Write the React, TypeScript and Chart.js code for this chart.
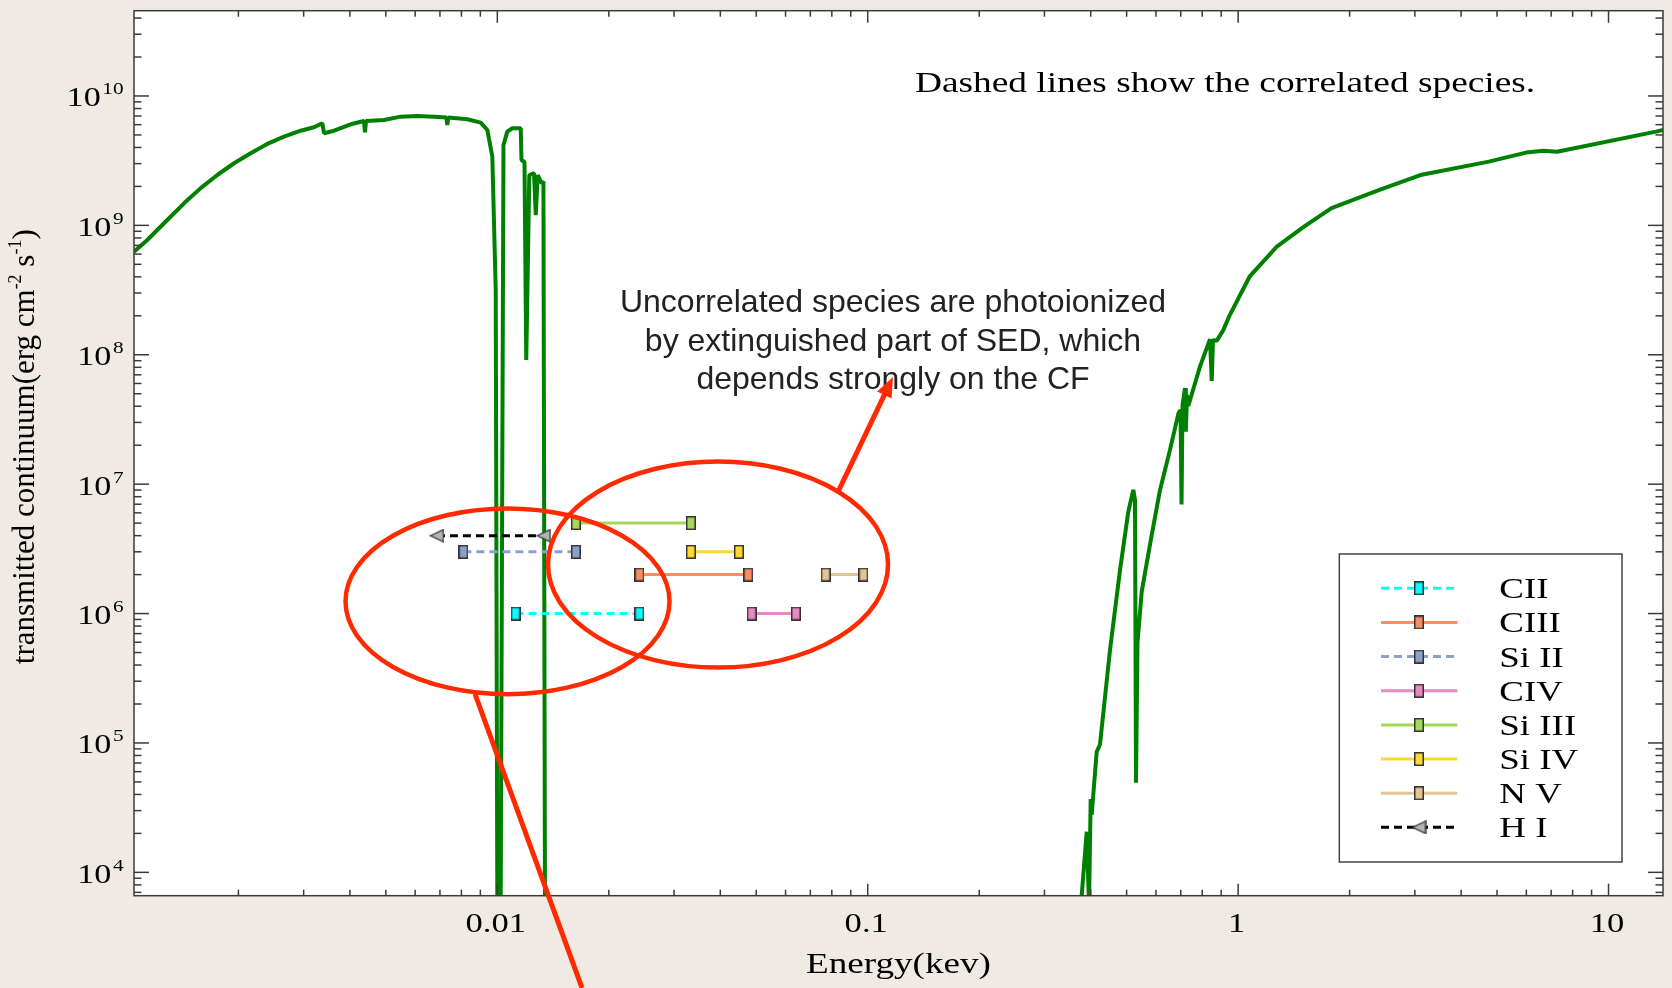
import React, { useEffect, useRef } from 'react';
import { Chart, registerables } from 'chart.js';

Chart.register(...registerables);

// ---- transmitted continuum (energy in keV, flux in erg cm^-2 s^-1) ----
const specE = [
  0.001045, 0.001135, 0.001285, 0.001426, 0.001582, 0.001754, 0.001946, 0.002158, 0.002393, 0.002655,
  0.002945, 0.0032, 0.00337, 0.003405, 0.003623, 0.00402, 0.004366, 0.004393, 0.004421, 0.004944,
  0.005485, 0.006081, 0.006749, 0.007285, 0.007328, 0.007373, 0.008298, 0.00902, 0.009397, 0.009694,
  0.009901, 0.010001, 0.01021, 0.01039, 0.01064, 0.01098, 0.01157, 0.01162, 0.01184, 0.01197, 0.0122,
  0.01256, 0.0127, 0.01285, 0.01316, 0.01332, 0.01345,
  0.3752, 0.3902, 0.3958, 0.3999, 0.4024, 0.4151, 0.4237, 0.4509, 0.4799, 0.5052,
  0.5212, 0.5267, 0.53, 0.5349, 0.5491, 0.5783, 0.6154, 0.6547, 0.6897, 0.699,
  0.7034, 0.7078, 0.7188, 0.7225, 0.7278, 0.7336, 0.7892, 0.8397, 0.8486, 0.8554,
  0.8753, 0.912, 0.9449, 1.0734, 1.272, 1.506, 1.787, 2.407, 3.106, 4.752,
  5.988, 6.675, 7.261, 13.43, 14.03,
];
const specF = [
  6.26e8, 7.71e8, 1.1e9, 1.48e9, 1.94e9, 2.45e9, 3.02e9, 3.61e9, 4.26e9, 4.85e9,
  5.39e9, 5.73e9, 6.15e9, 5.15e9, 5.39e9, 6.04e9, 6.41e9, 5.24e9, 6.41e9, 6.52e9,
  6.92e9, 7.01e9, 6.92e9, 6.82e9, 5.97e9, 6.82e9, 6.61e9, 6.22e9, 5.46e9, 3.4e9,
  3.17e8, 5e3, 5e3, 4.18e9, 5.3e9, 5.63e9, 5.63e9, 3.2e9, 3.09e9, 9.12e7, 2.45e9,
  2.53e9, 1.2e9, 2.45e9, 2.12e9, 2.18e9, 5e3,
  5e3, 2.06e4, 5.6e3, 3.69e4, 2.78e4, 8.55e4, 9.73e4, 5.23e5, 2.17e6, 6.12e6,
  9.02e6, 7.55e6, 4.93e4, 5.96e5, 1.47e6, 3.42e6, 9.02e6, 1.84e7, 3.51e7, 3.74e7,
  6.97e6, 4.09e7, 5.54e7, 2.54e7, 4.89e7, 4.02e7, 8.14e7, 1.32e8, 6.27e7, 1.3e8,
  1.28e8, 1.55e8, 1.97e8, 4.01e8, 6.84e8, 9.77e8, 1.36e9, 1.88e9, 2.45e9, 3.11e9,
  3.65e9, 3.78e9, 3.71e9, 5.3e9, 5.46e9,
];

// ---- species ionisation ranges ----
const speciesNames = ['CII', 'CIII', 'Si II', 'CIV', 'Si III', 'Si IV', 'N V', 'H I'];
const speciesLow = [0.0112, 0.0242, 0.0081, 0.0486, 0.0163, 0.0333, 0.077, 0.00687];
const speciesHigh = [0.0242, 0.0476, 0.0163, 0.064, 0.0333, 0.0449, 0.0973, 0.01334];
const speciesLevel = [1e6, 2e6, 3e6, 1e6, 5e6, 3e6, 2e6, 4e6];
const speciesColor = ['#00ffff', '#fc8d62', '#8da0cb', '#e78ac3', '#a6d854', '#ffd92f', '#e5c494', '#000000'];
const speciesFill = ['#00ffff', '#fc8d62', '#8da0cb', '#e78ac3', '#a6d854', '#ffd92f', '#e5c494', '#b3b3b3'];
const speciesDashed = [true, false, true, false, false, false, false, true];
const speciesMarker = ['rect', 'rect', 'rect', 'rect', 'rect', 'rect', 'rect', 'triangle'];

// ---- axes ----
const X_MIN = 0.001045;
const X_MAX = 14.03;
const Y_MIN = 6.6e3;
const Y_MAX = 4.56e10;
const xTickValues = [0.01, 0.1, 1, 10];
const xTickLabels = ['0.01', '0.1', '1', '10'];
const yTickExponents = [4, 5, 6, 7, 8, 9, 10];
const xTitle = 'Energy(kev)';

// ---- annotations (data coordinates) ----
const ellipseCenterE = [0.010655, 0.03943];
const ellipseCenterF = [1.243e6, 2.392e6];
const ellipseHalfDecE = [0.4374, 0.459];
const ellipseHalfDecF = [0.7172, 0.796];
const arrowFromE = [0.0831, 0.008705];
const arrowFromF = [8.7e6, 2.39e5];
const arrowToE = [0.117, 0.01693];
const arrowToF = [6.74e7, 1.278e3];
const arrowHasHead = [true, false];
const noteLines = ['Uncorrelated species are photoionized', 'by extinguished part of SED, which', 'depends strongly on the CF'];
const noteE = 0.117;
const noteF = [2.14e8, 1.07e8, 5.44e7];
const topNote = 'Dashed lines show the correlated species.';
const topNoteE = 0.1341;
const topNoteF = 1.08e10;

const SERIF = '"Liberation Serif", "Times New Roman", serif';
const SANS = '"Liberation Sans", Arial, sans-serif';
const RED = '#ff2a00';

function stext(ctx: CanvasRenderingContext2D, text: string, x: number, y: number, font: string, sx: number, align: string, color = '#000') {
  ctx.save();
  ctx.font = font;
  ctx.fillStyle = color;
  ctx.textAlign = 'left';
  ctx.textBaseline = 'alphabetic';
  const w = ctx.measureText(text).width * sx;
  const x0 = align === 'center' ? x - w / 2 : align === 'right' ? x - w : x;
  ctx.translate(x0, y);
  ctx.scale(sx, 1);
  ctx.fillText(text, 0, 0);
  ctx.restore();
  return w;
}

function makeRect(fill: string) {
  const c = document.createElement('canvas');
  c.width = 10;
  c.height = 14;
  const g = c.getContext('2d')!;
  g.fillStyle = fill;
  g.fillRect(1, 1, 8, 12);
  g.strokeStyle = '#333';
  g.lineWidth = 1.5;
  g.strokeRect(0.75, 0.75, 8.5, 12.5);
  return c;
}

function makeTri(fill: string) {
  const c = document.createElement('canvas');
  c.width = 15;
  c.height = 14;
  const g = c.getContext('2d')!;
  g.beginPath();
  g.moveTo(1, 7);
  g.lineTo(14, 0.9);
  g.lineTo(14, 13.1);
  g.closePath();
  g.fillStyle = fill;
  g.fill();
  g.strokeStyle = '#333';
  g.lineWidth = 1.3;
  g.stroke();
  return c;
}

function line(ctx: CanvasRenderingContext2D, x1: number, y1: number, x2: number, y2: number) {
  ctx.beginPath();
  ctx.moveTo(x1, y1);
  ctx.lineTo(x2, y2);
  ctx.stroke();
}

export default function App() {
  const ref = useRef<HTMLCanvasElement>(null);

  useEffect(() => {
    const canvas = ref.current!;
    const markerImgs = speciesFill.map((f, i) => (speciesMarker[i] === 'triangle' ? makeTri(f) : makeRect(f)));

    const decor = {
      id: 'decor',
      beforeDraw(chart: any) {
        const ctx = chart.ctx as CanvasRenderingContext2D;
        const { left, right, top, bottom } = chart.chartArea;
        ctx.save();
        ctx.fillStyle = '#efebe4';
        ctx.fillRect(0, 0, chart.width, chart.height);
        ctx.fillStyle = '#ffffff';
        ctx.fillRect(left, top, right - left, bottom - top);
        ctx.restore();
      },
      afterDatasetsDraw(chart: any) {
        const ctx = chart.ctx as CanvasRenderingContext2D;
        const xs = chart.scales.x;
        const ys = chart.scales.y;
        const { left, right, top, bottom } = chart.chartArea;
        ctx.save();

        // frame + inward ticks
        ctx.strokeStyle = '#3a3a3a';
        ctx.lineWidth = 1.5;
        ctx.strokeRect(left, top, right - left, bottom - top);
        for (let d = -3; d <= 1; d++) {
          for (let m = 1; m <= 9; m++) {
            const v = m * Math.pow(10, d);
            if (v < X_MIN || v > X_MAX) continue;
            const px = xs.getPixelForValue(v);
            const len = m === 1 ? 12 : 6;
            line(ctx, px, bottom, px, bottom - len);
            line(ctx, px, top, px, top + len);
          }
        }
        for (let d = 3; d <= 10; d++) {
          for (let m = 1; m <= 9; m++) {
            const v = m * Math.pow(10, d);
            if (v < Y_MIN || v > Y_MAX) continue;
            const py = ys.getPixelForValue(v);
            const len = m === 1 ? 15 : 7.5;
            line(ctx, left, py, left + len, py);
            line(ctx, right, py, right - len, py);
          }
        }

        // x tick labels
        xTickValues.forEach((v, i) => {
          const px = xs.getPixelForValue(v);
          stext(ctx, xTickLabels[i], px - 1.5, bottom + 36, `27px ${SERIF}`, 1.28, 'center');
        });
        // y tick labels 10^n
        yTickExponents.forEach((e) => {
          const py = ys.getPixelForValue(Math.pow(10, e));
          const rightEdge = left - 10.5;
          ctx.font = `17px ${SERIF}`;
          const wExp = ctx.measureText(String(e)).width * 1.25;
          ctx.font = `28px ${SERIF}`;
          const wBase = ctx.measureText('10').width * 1.22;
          stext(ctx, String(e), rightEdge - wExp, py - 1.5, `17px ${SERIF}`, 1.25, 'left');
          stext(ctx, '10', rightEdge - wExp - 1.5 - wBase, py + 10.5, `28px ${SERIF}`, 1.22, 'left');
        });

        // axis titles
        stext(ctx, xTitle, (left + right) / 2, bottom + 77.6, `29px ${SERIF}`, 1.28, 'center');
        {
          const fMain = `31px ${SERIF}`;
          const fSup = `18px ${SERIF}`;
          const parts: [string, string, number][] = [
            ['transmitted continuum(erg cm', fMain, 0],
            ['-2', fSup, -13],
            [' s', fMain, 0],
            ['-1', fSup, -13],
            [')', fMain, 0],
          ];
          let total = 0;
          const widths = parts.map(([t, f]) => {
            ctx.font = f;
            const w = ctx.measureText(t).width;
            total += w;
            return w;
          });
          ctx.save();
          ctx.translate(left - 99.7, (top + bottom) / 2 - 6.5);
          ctx.rotate(-Math.PI / 2);
          ctx.fillStyle = '#000';
          ctx.textAlign = 'left';
          ctx.textBaseline = 'alphabetic';
          let x = -total / 2;
          parts.forEach(([t, f, dy], i) => {
            ctx.font = f;
            ctx.fillText(t, x, dy);
            x += widths[i];
          });
          ctx.restore();
        }

        // top note
        stext(ctx, topNote, xs.getPixelForValue(topNoteE), ys.getPixelForValue(topNoteF), `30px ${SERIF}`, 1.245, 'left');
        // note lines
        noteLines.forEach((t, i) => {
          stext(ctx, t, xs.getPixelForValue(noteE), ys.getPixelForValue(noteF[i]), `32px ${SANS}`, 1.0, 'center', '#222');
        });

        // legend
        const bx = right - 323.7;
        const by = bottom - 341.7;
        const bw = 282.7;
        const bh = 308;
        ctx.fillStyle = '#ffffff';
        ctx.fillRect(bx, by, bw, bh);
        ctx.strokeStyle = '#444';
        ctx.lineWidth = 1.5;
        ctx.strokeRect(bx, by, bw, bh);
        speciesNames.forEach((name, i) => {
          const ry = by + 34.3 + i * 34.15;
          ctx.save();
          ctx.strokeStyle = speciesColor[i];
          ctx.lineWidth = 3;
          ctx.setLineDash(speciesDashed[i] ? [8, 5] : []);
          line(ctx, bx + 41.7, ry, bx + 118, ry);
          ctx.restore();
          const img = markerImgs[i];
          ctx.drawImage(img, bx + 79.7 - img.width / 2, ry - img.height / 2);
          stext(ctx, name, bx + 160, ry + 10, `30px ${SERIF}`, 1.23, 'left');
        });

        // red ellipses
        ctx.strokeStyle = RED;
        ctx.lineWidth = 4.5;
        ellipseCenterE.forEach((ce, i) => {
          const cx = xs.getPixelForValue(ce);
          const cy = ys.getPixelForValue(ellipseCenterF[i]);
          const rx = xs.getPixelForValue(ce * Math.pow(10, ellipseHalfDecE[i])) - cx;
          const ry = cy - ys.getPixelForValue(ellipseCenterF[i] * Math.pow(10, ellipseHalfDecF[i]));
          ctx.beginPath();
          ctx.ellipse(cx, cy, rx, ry, 0, 0, Math.PI * 2);
          ctx.stroke();
        });

        // red arrows
        arrowFromE.forEach((fe, i) => {
          const x1 = xs.getPixelForValue(fe);
          const y1 = ys.getPixelForValue(arrowFromF[i]);
          const x2 = xs.getPixelForValue(arrowToE[i]);
          const y2 = ys.getPixelForValue(arrowToF[i]);
          const ang = Math.atan2(y2 - y1, x2 - x1);
          const headLen = arrowHasHead[i] ? 20 : 0;
          ctx.strokeStyle = RED;
          ctx.lineWidth = 5;
          ctx.lineCap = 'butt';
          line(ctx, x1, y1, x2 - Math.cos(ang) * headLen * 0.9, y2 - Math.sin(ang) * headLen * 0.9);
          if (arrowHasHead[i]) {
            ctx.fillStyle = RED;
            ctx.beginPath();
            ctx.moveTo(x2, y2);
            ctx.lineTo(x2 - Math.cos(ang) * headLen + Math.sin(ang) * 8, y2 - Math.sin(ang) * headLen - Math.cos(ang) * 8);
            ctx.lineTo(x2 - Math.cos(ang) * headLen - Math.sin(ang) * 8, y2 - Math.sin(ang) * headLen + Math.cos(ang) * 8);
            ctx.closePath();
            ctx.fill();
          }
        });

        ctx.restore();
      },
    };

    const speciesDatasets = speciesNames.map((name, i) => ({
      label: name,
      data: [
        { x: speciesLow[i], y: speciesLevel[i] },
        { x: speciesHigh[i], y: speciesLevel[i] },
      ],
      borderColor: speciesColor[i],
      backgroundColor: speciesFill[i],
      borderWidth: 3,
      borderDash: speciesDashed[i] ? [8, 5] : [],
      pointStyle: markerImgs[i],
      pointRadius: 5,
      pointHoverRadius: 5,
      clip: false,
      order: 0,
    }));

    const chart = new Chart(canvas, {
      type: 'line',
      data: {
        datasets: [
          {
            label: 'transmitted continuum',
            data: specE.map((e, i) => ({ x: e, y: specF[i] })),
            borderColor: '#008000',
            borderWidth: 4,
            borderJoinStyle: 'bevel',
            pointRadius: 0,
            fill: false,
            tension: 0,
            clip: 0,
            order: 1,
          } as any,
          ...(speciesDatasets as any[]),
        ],
      },
      options: {
        responsive: false,
        animation: false,
        events: [],
        layout: { padding: { left: 134, top: 10.7, right: 9, bottom: 92.3 } },
        plugins: { legend: { display: false }, tooltip: { enabled: false } },
        scales: {
          x: { type: 'logarithmic', min: X_MIN, max: X_MAX, display: false },
          y: { type: 'logarithmic', min: Y_MIN, max: Y_MAX, display: false },
        },
      } as any,
      plugins: [decor as any],
    });

    return () => chart.destroy();
  }, []);

  return (
    <div style={{ position: 'fixed', left: 0, top: 0, width: 1672, height: 988 }}>
      <canvas ref={ref} width={1672} height={988} style={{ display: 'block', width: 1672, height: 988 }} />
    </div>
  );
}
